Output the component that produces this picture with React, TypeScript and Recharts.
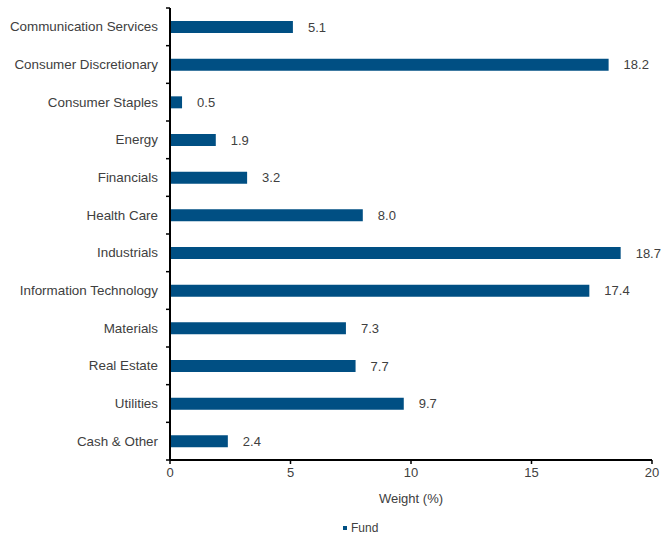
import React from 'react';
import { BarChart, Bar, XAxis, YAxis, LabelList, Legend } from 'recharts';

const categories = [
  'Communication Services',
  'Consumer Discretionary',
  'Consumer Staples',
  'Energy',
  'Financials',
  'Health Care',
  'Industrials',
  'Information Technology',
  'Materials',
  'Real Estate',
  'Utilities',
  'Cash & Other',
];
const fundWeights = [5.1, 18.2, 0.5, 1.9, 3.2, 8.0, 18.7, 17.4, 7.3, 7.7, 9.7, 2.4];
const xTicks = [0, 5, 10, 15, 20];
const seriesName = 'Fund';
const xLabel = 'Weight (%)';

const data = categories.map((c, i) => ({ name: c, value: fundWeights[i] }));

const W = 661;
const H = 538;
const MARGIN = { top: 8, right: 9, bottom: 0, left: 0 };
const Y_WIDTH = 170;
const X_HEIGHT = 48;
const LEGEND_H = 30;
const TICK_SIZE = 4;
const TICK_MARGIN = 8;
const COLOR = '#004F83';
const TEXT = '#404040';
const FONT = 'Liberation Sans, Arial, sans-serif';
const FS = 13;

const plotH = H - MARGIN.top - MARGIN.bottom - X_HEIGHT - LEGEND_H;

const YTick = (props: any) => {
  const { x, y, payload, index } = props;
  const half = payload && payload.offset ? payload.offset : plotH / categories.length / 2;
  const lx1 = x + TICK_MARGIN;
  const lx2 = x + TICK_MARGIN + TICK_SIZE;
  return (
    <g>
      <text x={x} y={y} textAnchor="end" dominantBaseline="central" fill={TEXT} fontSize={13.4} fontFamily={FONT}>
        {payload.value}
      </text>
      <line x1={lx1} x2={lx2} y1={y - half} y2={y - half} stroke="#000" strokeWidth={1.5} />
      {index === categories.length - 1 && (
        <line x1={lx1} x2={lx2} y1={y + half} y2={y + half} stroke="#000" strokeWidth={1.5} />
      )}
    </g>
  );
};

const LegendContent = () => (
  <div style={{ position: 'relative', height: LEGEND_H, width: W, fontFamily: FONT, fontSize: 12, color: TEXT }}>
    <div style={{ position: 'absolute', left: 343, top: 18, width: 4, height: 4, background: COLOR }} />
    <div style={{ position: 'absolute', left: 351, top: 13, lineHeight: '14px' }}>{seriesName}</div>
  </div>
);

export default function App() {
  return (
    <div style={{ position: 'absolute', left: 0, top: 0, width: W, height: H, background: '#fff' }}>
      <BarChart width={W} height={H} data={data} layout="vertical" margin={MARGIN} barCategoryGap={0}>
        <XAxis
          type="number"
          domain={[0, 20]}
          ticks={xTicks}
          height={X_HEIGHT}
          axisLine={{ stroke: '#000', strokeWidth: 2 }}
          tickLine={{ stroke: '#000', strokeWidth: 1.5 }}
          tickSize={TICK_SIZE}
          tickMargin={4}
          tick={{ fill: TEXT, fontSize: FS, fontFamily: FONT }}
          label={{ value: xLabel, position: 'insideBottom', offset: 5, fill: TEXT, fontSize: FS, fontFamily: FONT }}
        />
        <YAxis
          type="category"
          dataKey="name"
          width={Y_WIDTH}
          axisLine={{ stroke: '#000', strokeWidth: 2 }}
          tickLine={false}
          tickSize={TICK_SIZE}
          tickMargin={TICK_MARGIN}
          interval={0}
          tick={<YTick />}
        />
        <Legend verticalAlign="bottom" height={LEGEND_H} wrapperStyle={{ left: 0, width: W }} content={<LegendContent />} />
        <Bar dataKey="value" name={seriesName} fill={COLOR} barSize={12} isAnimationActive={false}>
          <LabelList
            dataKey="value"
            position="right"
            offset={15}
            formatter={(v: any) => Number(v).toFixed(1)}
            fill={TEXT}
            fontSize={FS}
            fontFamily={FONT}
          />
        </Bar>
      </BarChart>
    </div>
  );
}
